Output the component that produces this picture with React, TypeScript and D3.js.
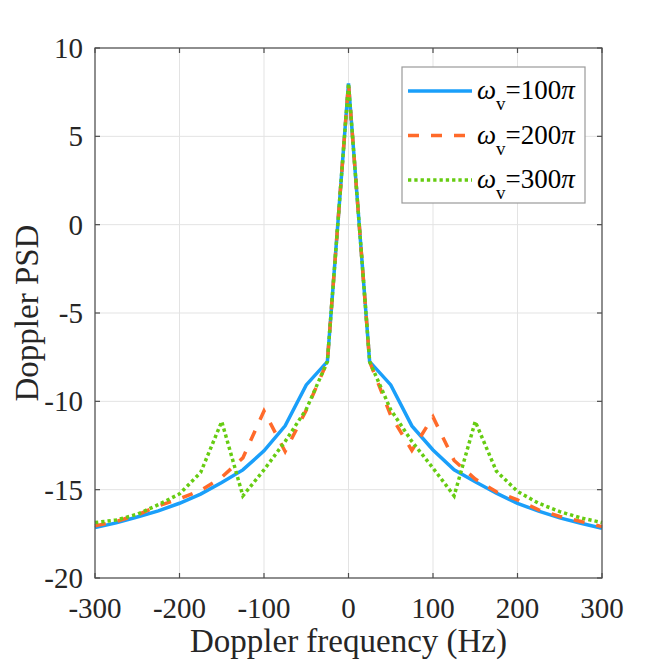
import * as d3 from 'd3';

// Doppler frequency samples (Hz)
const freqs = [
  -300, -275, -250, -225, -200, -175, -150, -125, -100, -75, -50, -25, 0,
  25, 50, 75, 100, 125, 150, 175, 200, 225, 250, 275, 300,
];

// PSD values
const psd100 = [
  -17.15, -16.88, -16.55, -16.2, -15.77, -15.25, -14.6, -13.88, -12.8, -11.39, -9.07, -7.75, 8,
  -7.75, -9.07, -11.39, -12.75, -13.88, -14.55, -15.2, -15.77, -16.22, -16.6, -16.9, -17.18,
];
const psd200 = [
  -17.05, -16.8, -16.43, -15.92, -15.52, -15.05, -14.3, -13.2, -10.55, -12.84, -10.5, -7.75, 8,
  -7.75, -10.8, -12.78, -10.88, -13.35, -14.4, -15.12, -15.58, -16.14, -16.52, -16.8, -17.09,
];
const psd300 = [
  -16.86, -16.72, -16.39, -15.85, -15.24, -14.03, -11.14, -15.35, -13.88, -12.27, -10.45, -7.75, 8,
  -7.75, -10.48, -12.27, -13.78, -15.35, -11.14, -13.95, -15.1, -15.77, -16.24, -16.6, -16.86,
];

const xTicks = [-300, -200, -100, 0, 100, 200, 300];
const yTicks = [-20, -15, -10, -5, 0, 5, 10];

const series = [
  { label: '100', values: psd100, color: '#1a9ffa', dash: null as string | null },
  { label: '200', values: psd200, color: '#ff6a2a', dash: '11,12' },
  { label: '300', values: psd300, color: '#66cc11', dash: '3.3,3' },
];

const W = 664;
const H = 664;
const margin = { left: 95, right: 62, top: 48, bottom: 86 };
const font = '"Liberation Serif", "Times New Roman", serif';

export default function App() {
  const x = d3.scaleLinear().domain([-300, 300]).range([margin.left, W - margin.right]);
  const y = d3.scaleLinear().domain([-20, 10]).range([H - margin.bottom, margin.top]);
  const x0 = x.range()[0], x1 = x.range()[1];
  const y0 = y.range()[0], y1 = y.range()[1];

  const line = d3.line<number>()
    .x((_, i) => x(freqs[i]))
    .y(d => y(d));

  const axisColor = '#4d4d4d';
  const tickLen = 5;

  const lx = 402, ly = 67, lw = 183, lh = 136;

  return (
    <svg width={W} height={H} style={{ position: 'absolute', left: 0, top: 0, background: '#fff' }}
      fontFamily={font}>
      <rect x={0} y={0} width={W} height={H} fill="#fff" />
      {/* grid */}
      {xTicks.map(t => (
        <line key={'gx' + t} x1={x(t)} x2={x(t)} y1={y0} y2={y1} stroke="#e3e3e3" strokeWidth={1} />
      ))}
      {yTicks.map(t => (
        <line key={'gy' + t} x1={x0} x2={x1} y1={y(t)} y2={y(t)} stroke="#e3e3e3" strokeWidth={1} />
      ))}

      {/* series */}
      {series.map(s => (
        <path key={s.label} d={line(s.values) ?? ''} fill="none" stroke={s.color}
          strokeWidth={3.5} strokeDasharray={s.dash ?? undefined} strokeLinejoin="miter" />
      ))}

      {/* axes box and ticks */}
      <rect x={x0} y={y1} width={x1 - x0} height={y0 - y1} fill="none" stroke={axisColor} strokeWidth={1.2} />
      {xTicks.map(t => (
        <g key={'tx' + t}>
          <line x1={x(t)} x2={x(t)} y1={y0} y2={y0 - tickLen} stroke={axisColor} strokeWidth={1.2} />
          <line x1={x(t)} x2={x(t)} y1={y1} y2={y1 + tickLen} stroke={axisColor} strokeWidth={1.2} />
          <text x={x(t)} y={y0 + 40} textAnchor="middle" fontSize={29} fill="#262626">{t}</text>
        </g>
      ))}
      {yTicks.map(t => (
        <g key={'ty' + t}>
          <line x1={x0} x2={x0 + tickLen} y1={y(t)} y2={y(t)} stroke={axisColor} strokeWidth={1.2} />
          <line x1={x1} x2={x1 - tickLen} y1={y(t)} y2={y(t)} stroke={axisColor} strokeWidth={1.2} />
          <text x={x0 - 12} y={y(t) + 10} textAnchor="end" fontSize={29} fill="#262626">{t}</text>
        </g>
      ))}

      {/* axis labels */}
      <text x={(x0 + x1) / 2} y={652} textAnchor="middle" fontSize={33} fill="#262626">
        Doppler frequency (Hz)
      </text>
      <text transform={`translate(38,${(y0 + y1) / 2}) rotate(-90)`} textAnchor="middle" fontSize={33} fill="#262626">
        Doppler PSD
      </text>

      {/* legend */}
      <rect x={lx} y={ly} width={lw} height={lh} fill="#fff" stroke="#9a9a9a" strokeWidth={1.2} />
      {series.map((s, i) => {
        const cy = ly + 24 + i * 44.5;
        return (
          <g key={'lg' + s.label}>
            <line x1={lx + 6} x2={lx + 70} y1={cy} y2={cy} stroke={s.color} strokeWidth={3.5}
              strokeDasharray={s.dash ?? undefined} />
            <text x={lx + 75} y={cy + 8} fontSize={27} fill="#000">
              <tspan fontStyle="italic">ω</tspan>
              <tspan fontSize={19} dy={11}>v</tspan>
              <tspan dy={-11}>={s.label}</tspan>
              <tspan fontStyle="italic">π</tspan>
            </text>
          </g>
        );
      })}
    </svg>
  );
}
